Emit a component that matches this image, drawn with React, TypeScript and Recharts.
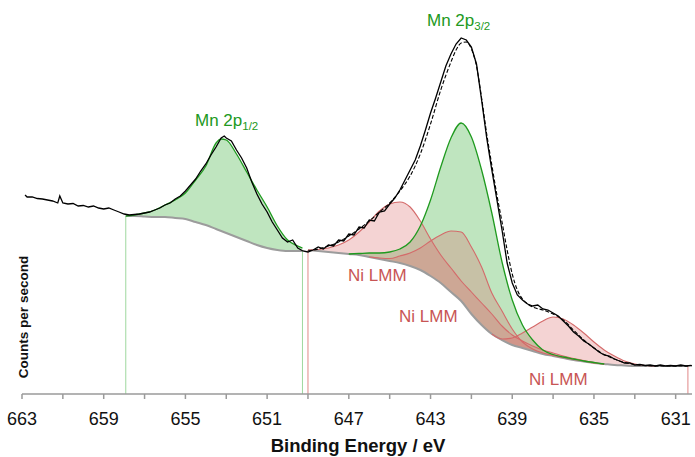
import React from 'react';
import { ComposedChart, Area, Line, XAxis, YAxis, ReferenceLine } from 'recharts';

// ---- axis ticks ----
const majorTicks = [663, 659, 655, 651, 647, 643, 639, 635, 631];
const minorTicks = [661, 657, 653, 649, 645, 641, 637, 633];

// ---- Mn 2p1/2 region (background + component) ----
const r1Energy = [657.92, 657.5, 657, 656.5, 656, 655.5, 655, 654.5, 654, 653.5, 653.25, 653, 652.5, 652, 651.5, 651, 650.5, 650, 649.5, 649.27];
const r1Background = [178, 178, 177.5, 177, 177, 176, 175, 172, 169, 165, 163, 161, 157, 153, 149, 146, 144, 143, 143, 143];
const mn12Top = [178, 179, 181, 184, 189, 194, 201, 214, 228, 251, 255, 254, 240, 222, 204, 187, 168, 154, 148, 146];

// ---- main region background ----
const r2Energy = [649, 648.5, 648, 647.5, 647, 646.5, 646, 645.5, 645, 644.5, 644, 643.5, 643, 642.5, 642, 641.5, 641, 640.5, 640, 639.5, 639, 638.5, 638, 637.5, 637, 636.5, 636, 635.5, 635, 634.5, 634, 633.5, 633, 632.5, 632, 631.5, 631, 630.5, 630.4];
const r2Background = [144, 143, 142, 141, 140, 139, 137, 135, 133, 131, 128, 124, 118, 111, 102, 93, 80, 69, 60, 54, 49, 46, 43, 40, 38, 36, 34, 32.5, 31, 30, 29, 28.5, 28, 28, 28, 28, 28, 28, 28];

// ---- Mn 2p3/2 component ----
const mn32Energy = [647, 646.5, 646, 645.5, 645, 644.5, 644, 643.5, 643, 642.5, 642, 641.5, 641, 640.5, 640, 639.5, 639, 638.5, 638, 637.5, 637, 636.5, 636, 635.5, 635, 634.5];
const mn32Top = [140, 140.5, 141, 141, 142, 145, 152, 168, 194, 227, 256, 271, 257, 224, 181, 132, 94, 69, 54, 44, 39.5, 37, 35, 33, 31.5, 30];

// ---- Ni LMM components ----
const ni1Energy = [649, 648.5, 648, 647.5, 647, 646.5, 646, 645.5, 645, 644.5, 644, 643.5, 643, 642.5, 642, 641.5, 641, 640.5, 640, 639.5, 639, 638.5, 638, 637.5, 637, 636.5, 636, 635.5, 635, 634.5];
const ni1Top = [144, 144.5, 146, 149, 154, 162, 172, 183, 190, 192, 187, 173, 155, 139, 126, 113, 102, 91, 80, 68, 59, 53, 48, 44, 41, 38, 35.5, 33.5, 31.5, 30];

const ni2Energy = [646, 645.5, 645, 644.5, 644, 643.5, 643, 642.5, 642, 641.5, 641, 640.5, 640, 639.5, 639, 638.5, 638, 637.5, 637, 636.5, 636, 635.5, 635, 634.5];
const ni2Top = [137, 136, 135.5, 138, 141, 146, 153, 159, 163, 162, 147, 127, 101, 83, 65, 52, 45, 41, 38.5, 36.5, 34.5, 33, 31, 30];

const ni3Energy = [640, 639.5, 639, 638.5, 638, 637.5, 637, 636.5, 636, 635.5, 635, 634.5, 634, 633.5, 633, 632.5, 632];
const ni3Top = [60, 55, 56, 61, 67, 73, 77, 75, 69, 61, 52, 44, 38, 33, 30, 28.5, 28];

// ---- fit envelope (main region) ----
const envEnergy = [649, 648.5, 648, 647.5, 647, 646.5, 646, 645.5, 645, 644.5, 644, 643.5, 643, 642.5, 642, 641.75, 641.5, 641.25, 641, 640.75, 640.5, 640.25, 640, 639.75, 639.5, 639.25, 639, 638.75, 638.5, 638.25, 638, 637.5, 637, 636.5, 636, 635.5, 635, 634.5, 634, 633.5, 633, 632.5, 632, 630.4];
const envCounts = [143, 145, 148, 152, 158, 165, 173, 182, 191, 203, 218, 240, 270, 304, 332, 344, 351, 352, 345, 328, 296, 260, 229, 199, 172, 144, 120, 104, 95, 90, 87, 84, 80, 74, 64, 54, 46, 39.5, 35, 31.5, 29.5, 28.5, 28, 28];

// ---- measured spectrum ----
const dataEnergy = [662.85, 662.75, 662.5, 662.25, 662, 661.75, 661.5, 661.25, 661.15, 661, 660.75, 660.5, 660.25, 660, 659.75, 659.5, 659.25, 659, 658.75, 658.5, 658.25, 658, 657.75, 657.5, 657.25, 657, 656.75, 656.5, 656.25, 656, 655.75, 655.5, 655.25, 655, 654.75, 654.5, 654.25, 654, 653.75, 653.5, 653.25, 653.1, 653, 652.75, 652.5, 652.25, 652, 651.75, 651.5, 651.25, 651, 650.75, 650.5, 650.25, 650, 649.75, 649.5, 649.25, 649, 648.75, 648.5, 648.25, 648, 647.75, 647.5, 647.25, 647, 646.75, 646.5, 646.25, 646, 645.75, 645.5, 645.25, 645, 644.75, 644.5, 644.25, 644, 643.75, 643.5, 643.25, 643, 642.75, 642.5, 642.25, 642, 641.75, 641.5, 641.25, 641, 640.75, 640.5, 640.25, 640, 639.75, 639.5, 639.25, 639, 638.75, 638.5, 638.25, 638, 637.75, 637.5, 637.25, 637, 636.75, 636.5, 636.25, 636, 635.75, 635.5, 635.25, 635, 634.75, 634.5, 634.25, 634, 633.75, 633.5, 633.25, 633, 632.75, 632.5, 632.25, 632, 631.75, 631.5, 631.25, 631, 630.75, 630.5, 630.25, 630.2];
const dataCounts = [199, 197, 197, 195.5, 195, 194, 193, 191, 198, 191, 190, 190.5, 188, 188.5, 187, 188, 186, 185, 186, 184, 182, 180, 179, 179.5, 180, 181, 182, 184, 186, 189, 191, 195, 198, 203, 209, 215, 223, 230, 239, 247, 256, 258, 256, 253, 244, 236, 226, 212, 200, 190, 182, 172, 164, 156, 152, 154, 146, 143, 142, 144, 147, 145, 149, 148, 154, 153, 160, 159, 167, 166, 174, 173, 182, 183, 190, 196, 204, 214, 224, 234, 248, 264, 281, 296, 312, 328, 340, 350, 356, 354, 347, 330, 294, 256, 224, 194, 164, 131, 111, 99, 94, 90, 88, 89, 85, 84, 81, 78, 73, 68, 62, 58, 53, 50, 46, 42, 39, 38, 35, 33, 31, 31, 29, 29.5, 28.5, 29, 28, 29, 28, 28.5, 28, 29, 28, 28.5, 28];

// ---- table building ----
const region1 = r1Energy.map((e, i) => ({ e, bg: r1Background[i], top: mn12Top[i], range: [r1Background[i], mn12Top[i]] }));
const region2Bg = r2Energy.map((e, i) => ({ e, bg: r2Background[i] }));
const bgLookup = new Map(r2Energy.map((e, i) => [e, r2Background[i]]));
const component = (energy: number[], top: number[]) =>
  energy.map((e, i) => ({ e, top: top[i], range: [bgLookup.get(e) as number, top[i]] }));
const mn32 = component(mn32Energy, mn32Top);
const ni1 = component(ni1Energy, ni1Top);
const ni2 = component(ni2Energy, ni2Top);
const ni3 = component(ni3Energy, ni3Top);
const envelope = envEnergy.map((e, i) => ({ e, v: envCounts[i] }));
const spectrum = dataEnergy.map((e, i) => ({ e, v: dataCounts[i] }));

const GREEN = '#1f9a1f';
const GREEN_FILL = '#2aaa2a';
const RED = '#d46a6a';
const RED_FILL = '#dc6e6e';
const TEXT_GREEN = '#229922';
const TEXT_RED = '#c85555';
const FONT = '"Liberation Sans", Arial, sans-serif';

const TickLabel = (props: any) => {
  const { x, y, payload } = props;
  if (!majorTicks.includes(payload.value)) return null;
  return (
    <text x={x} y={y + 24} textAnchor="middle" fontSize={18} fontFamily={FONT} fill="#111">
      {payload.value}
    </text>
  );
};

export default function App() {
  const allTicks = [...majorTicks, ...minorTicks].sort((a, b) => b - a);
  return (
    <div style={{ position: 'absolute', left: 0, top: 0, width: 695, height: 457, background: '#fff' }}>
      <ComposedChart width={695} height={457} margin={{ top: 24, right: 3, bottom: 23, left: 22 }}>
        <XAxis
          type="number"
          dataKey="e"
          domain={[630.2, 663]}
          reversed
          allowDataOverflow
          ticks={allTicks}
          interval={0}
          tickSize={5}
          tickMargin={2}
          height={40}
          axisLine={{ stroke: '#9a9a9a', strokeWidth: 1.5 }}
          tickLine={{ stroke: '#9a9a9a', strokeWidth: 1.5 }}
          tick={<TickLabel />}
        />
        <YAxis type="number" domain={[0, 370]} hide allowDataOverflow />

        {/* component fills */}
        <Area data={region1} dataKey="range" type="monotone" stroke="none" fill={GREEN_FILL} fillOpacity={0.3} isAnimationActive={false} />
        <Area data={mn32} dataKey="range" type="monotone" stroke="none" fill={GREEN_FILL} fillOpacity={0.3} isAnimationActive={false} />
        <Area data={ni1} dataKey="range" type="monotone" stroke="none" fill={RED_FILL} fillOpacity={0.3} isAnimationActive={false} />
        <Area data={ni2} dataKey="range" type="monotone" stroke="none" fill={RED_FILL} fillOpacity={0.3} isAnimationActive={false} />
        <Area data={ni3} dataKey="range" type="monotone" stroke="none" fill={RED_FILL} fillOpacity={0.3} isAnimationActive={false} />

        {/* region markers */}
        <ReferenceLine segment={[{ x: r1Energy[0], y: 0 }, { x: r1Energy[0], y: r1Background[0] }]} stroke="#9ed89e" strokeWidth={1} />
        <ReferenceLine segment={[{ x: r1Energy[r1Energy.length - 1], y: 0 }, { x: r1Energy[r1Energy.length - 1], y: r1Background[r1Background.length - 1] }]} stroke="#9ed89e" strokeWidth={1} />
        <ReferenceLine segment={[{ x: r2Energy[0], y: 0 }, { x: r2Energy[0], y: r2Background[0] }]} stroke="#e08888" strokeWidth={1} />
        <ReferenceLine segment={[{ x: r2Energy[r2Energy.length - 1], y: 0 }, { x: r2Energy[r2Energy.length - 1], y: r2Background[r2Background.length - 1] }]} stroke="#e08888" strokeWidth={1} />

        {/* backgrounds */}
        <Line data={region1} dataKey="bg" type="monotone" stroke="#9c9c9c" strokeWidth={2} dot={false} isAnimationActive={false} />
        <Line data={region2Bg} dataKey="bg" type="monotone" stroke="#9c9c9c" strokeWidth={2} dot={false} isAnimationActive={false} />

        {/* component outlines */}
        <Line data={ni1} dataKey="top" type="monotone" stroke={RED} strokeWidth={1.1} dot={false} isAnimationActive={false} />
        <Line data={ni2} dataKey="top" type="monotone" stroke={RED} strokeWidth={1.1} dot={false} isAnimationActive={false} />
        <Line data={ni3} dataKey="top" type="monotone" stroke={RED} strokeWidth={1.1} dot={false} isAnimationActive={false} />
        <Line data={region1} dataKey="top" type="monotone" stroke={GREEN} strokeWidth={1.3} dot={false} isAnimationActive={false} />
        <Line data={mn32} dataKey="top" type="monotone" stroke={GREEN} strokeWidth={1.3} dot={false} isAnimationActive={false} />

        {/* envelope and measured data */}
        <Line data={envelope} dataKey="v" type="monotone" stroke="#000" strokeWidth={1.1} strokeDasharray="4 2" dot={false} isAnimationActive={false} />
        <Line data={spectrum} dataKey="v" type="linear" stroke="#000" strokeWidth={1.3} dot={false} isAnimationActive={false} />
      </ComposedChart>

      <svg width={695} height={457} style={{ position: 'absolute', left: 0, top: 0, pointerEvents: 'none' }}>
        <text x={358} y={452} textAnchor="middle" fontSize={18.5} fontWeight="bold" fontFamily={FONT} fill="#111">
          Binding Energy / eV
        </text>
        <text x={28} y={317} transform="rotate(-90 28 317)" textAnchor="middle" fontSize={13.5} fontWeight="bold" fontFamily={FONT} fill="#111">
          Counts per second
        </text>
        <text x={195} y={126} fontSize={17} fontFamily={FONT} fill={TEXT_GREEN}>
          Mn 2p<tspan fontSize={11.5} dy={3.5}>1/2</tspan>
        </text>
        <text x={427} y={26} fontSize={17} fontFamily={FONT} fill={TEXT_GREEN}>
          Mn 2p<tspan fontSize={11.5} dy={3.5}>3/2</tspan>
        </text>
        <text x={348} y={281} fontSize={17} fontFamily={FONT} fill={TEXT_RED}>Ni LMM</text>
        <text x={399} y={322} fontSize={17} fontFamily={FONT} fill={TEXT_RED}>Ni LMM</text>
        <text x={529} y={385} fontSize={17} fontFamily={FONT} fill={TEXT_RED}>Ni LMM</text>
      </svg>
    </div>
  );
}
